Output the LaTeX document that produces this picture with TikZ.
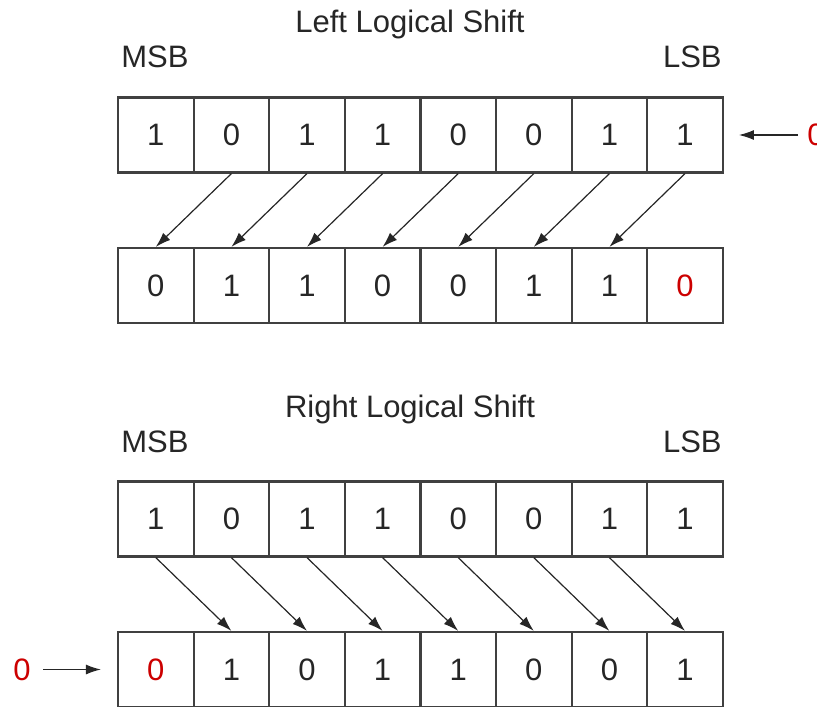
\documentclass[tikz,border=0pt]{standalone}
\usepackage{fontspec}
\setmainfont{Liberation Sans}
\usetikzlibrary{arrows.meta}

\begin{document}
\begin{tikzpicture}[
  x=0.5pt, y=-0.5pt,
  font=\fontsize{15.5}{18}\selectfont,
  cell/.style={draw=black!75, line width=1.1pt, minimum width=37.8pt, minimum height=37.5pt, inner sep=0pt, text=black!85},
  tag/.style={anchor=base, inner sep=0pt, text=black!85},
  zero/.style={inner sep=0pt, text=red!80!black},
  arrow/.style={-{Latex[length=7.5pt,width=5pt]}, line width=0.6pt, draw=black!85}
]
\clip (0,0) rectangle (817,706);

% left logical shift
\node[tag] (ltitle) at (410,33) {Left Logical Shift};
\node[tag, anchor=base west] (lmsb) at (121,68) {MSB};
\node[tag, anchor=base east] (llsb) at (722,68) {LSB};

\foreach \b [count=\i] in {1,0,1,1,0,0,1,1}
  \node[cell] (a\i) at ({155.8+75.6*(\i-1)},135) {\b};
\foreach \b [count=\i] in {0,1,1,0,0,1,1}
  \node[cell] (b\i) at ({155.8+75.6*(\i-1)},285.5) {\b};
\node[cell, text=red!80!black] (b8) at (685,285.5) {0};

\foreach \i [evaluate=\i as \j using int(\i-1)] in {2,...,8}
  \draw[arrow] (a\i.south) -- (b\j.north);

\node[zero, anchor=west] (lin) at (807,135) {0};
\draw[arrow, shorten <=4.5pt, shorten >=7.5pt] (lin.west) -- (a8.east);

% right logical shift
\node[tag] (rtitle) at (410,417) {Right Logical Shift};
\node[tag, anchor=base west] (rmsb) at (121,452) {MSB};
\node[tag, anchor=base east] (rlsb) at (722,452) {LSB};

\foreach \b [count=\i] in {1,0,1,1,0,0,1,1}
  \node[cell] (c\i) at ({155.8+75.6*(\i-1)},519) {\b};
\node[cell, text=red!80!black] (d1) at (155.8,669.5) {0};
\foreach \b [count=\i from 2] in {1,0,1,1,0,0,1}
  \node[cell] (d\i) at ({155.8+75.6*(\i-1)},669.5) {\b};

\foreach \i [evaluate=\i as \j using int(\i+1)] in {1,...,7}
  \draw[arrow] (c\i.south) -- (d\j.north);

\node[zero, anchor=west] (rin) at (13,669.5) {0};
\draw[arrow, shorten <=6pt, shorten >=8pt] (rin.east) -- (d1.west);

\end{tikzpicture}
\end{document}
